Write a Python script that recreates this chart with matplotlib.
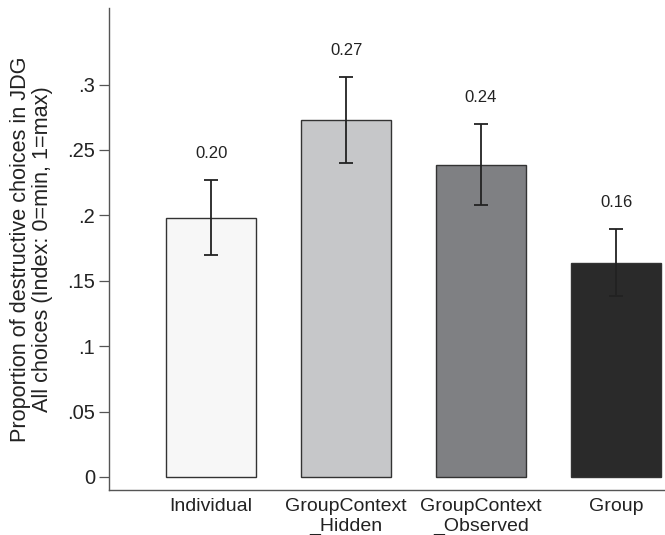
import matplotlib
matplotlib.use("Agg")
import matplotlib.pyplot as plt

categories = ["Individual", "GroupContext\n_Hidden", "GroupContext\n_Observed", "Group"]
values = [0.198, 0.273, 0.2385, 0.1636]
ci_low = [0.170, 0.240, 0.208, 0.138]
ci_high = [0.227, 0.306, 0.270, 0.1896]
value_labels = ["0.20", "0.27", "0.24", "0.16"]
colors = ["#f7f7f7", "#c6c7c9", "#7f8083", "#2a2a2a"]
yticks = [0, 0.05, 0.1, 0.15, 0.2, 0.25, 0.3]
yticklabels = ["0", ".05", ".1", ".15", ".2", ".25", ".3"]

plt.rcParams['font.family'] = ['Liberation Sans', 'DejaVu Sans']

fig = plt.figure(figsize=(6.65, 5.35), dpi=100)
ax = fig.add_axes([0.164, 0.084, 0.836, 0.901])

x = list(range(len(categories)))
ax.bar(x, values, width=0.667, color=colors, edgecolor="#333333", linewidth=1.0, zorder=2)
yerr = [[v - l for v, l in zip(values, ci_low)], [h - v for v, h in zip(values, ci_high)]]
ax.errorbar(x, values, yerr=yerr, fmt='none', ecolor="#222222", elinewidth=1.3,
            capsize=5, capthick=1.3, zorder=3)
for xi, h, lab in zip(x, ci_high, value_labels):
    ax.text(xi, h + 0.02, lab, ha='center', va='center', fontsize=12, color="#222222")

ax.set_xlim(-0.756, 3.363)
ax.set_ylim(-0.01, 0.3585)
ax.set_yticks(yticks)
ax.set_yticklabels(yticklabels, fontsize=14.5, color="#222222")
ax.set_xticks(x)
ax.set_xticklabels(categories, fontsize=14, color="#222222", linespacing=1.2)
ax.tick_params(axis='x', length=0, pad=6)
ax.tick_params(axis='y', length=7, width=0.9, color="#555555", pad=3)
for s in ['top', 'right']:
    ax.spines[s].set_visible(False)
for s in ['left', 'bottom']:
    ax.spines[s].set_color("#555555")
    ax.spines[s].set_linewidth(1.0)
ax.set_ylabel("Proportion of destructive choices in JDG\nAll choices (Index: 0=min, 1=max)",
              fontsize=15.6, color="#222222", linespacing=1.1, labelpad=10)

fig.savefig("out.png", dpi=100)
